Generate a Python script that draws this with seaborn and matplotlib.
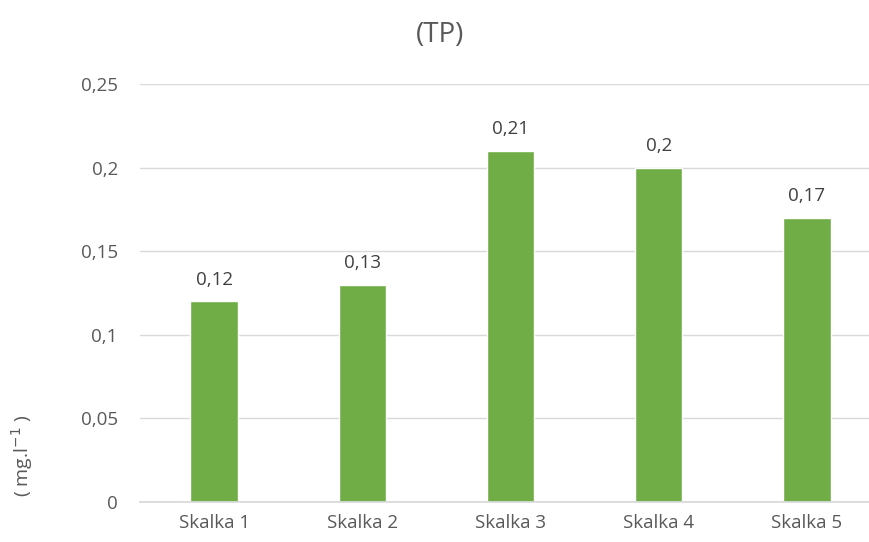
import matplotlib
matplotlib.use("Agg")
import matplotlib.pyplot as plt
import seaborn as sns
import pandas as pd

categories = ["Skalka 1", "Skalka 2", "Skalka 3", "Skalka 4", "Skalka 5"]
values = [0.12, 0.13, 0.21, 0.2, 0.17]
yticks = [0, 0.05, 0.1, 0.15, 0.2, 0.25]
ytick_labels = ["0", "0,05", "0,1", "0,15", "0,2", "0,25"]
value_labels = ["0,12", "0,13", "0,21", "0,2", "0,17"]

sns.set_theme(style="white")
plt.rcParams['font.family'] = ['Open Sans', 'DejaVu Sans']

df = pd.DataFrame({"cat": categories, "val": values})
fig = plt.figure(figsize=(8.7, 5.42), dpi=100)
ax = fig.add_axes([140/870, 1-502/542, 1-140/870, 418/542])
sns.barplot(data=df, x="cat", y="val", color="#70AD47", width=0.32, ax=ax, saturation=1)
ax.set_xlim(-0.5, (870-140)/148.2 - 0.5)
ax.set_ylim(0, 0.25)
ax.set_yticks(yticks)
ax.set_yticklabels(ytick_labels)
ax.yaxis.grid(True, color="#D9D9D9", linewidth=1)
ax.set_axisbelow(True)
for s in ["left", "right", "top"]:
    ax.spines[s].set_visible(False)
ax.spines["bottom"].set_color("#D9D9D9")
ax.tick_params(axis="both", colors="#595959", labelsize=13.5, length=0)
ax.tick_params(axis="y", pad=16)
ax.tick_params(axis="x", pad=9)
ax.set_xlabel("")
ax.set_ylabel("")
for i, (v, t) in enumerate(zip(values, value_labels)):
    ax.annotate(t, (i, v), xytext=(0, 9), textcoords="offset points",
                ha="center", va="bottom", fontsize=13.5, color="#404040")
fig.text(440/870, 1-35/542, "(TP)", ha="center", va="center", fontsize=20, color="#595959")
fig.text(22/870, 1-456/542, "( mg.l$^{-1}$ )", rotation=90, ha="center", va="center", fontsize=14, color="#595959")
fig.savefig("out.png", dpi=100)
